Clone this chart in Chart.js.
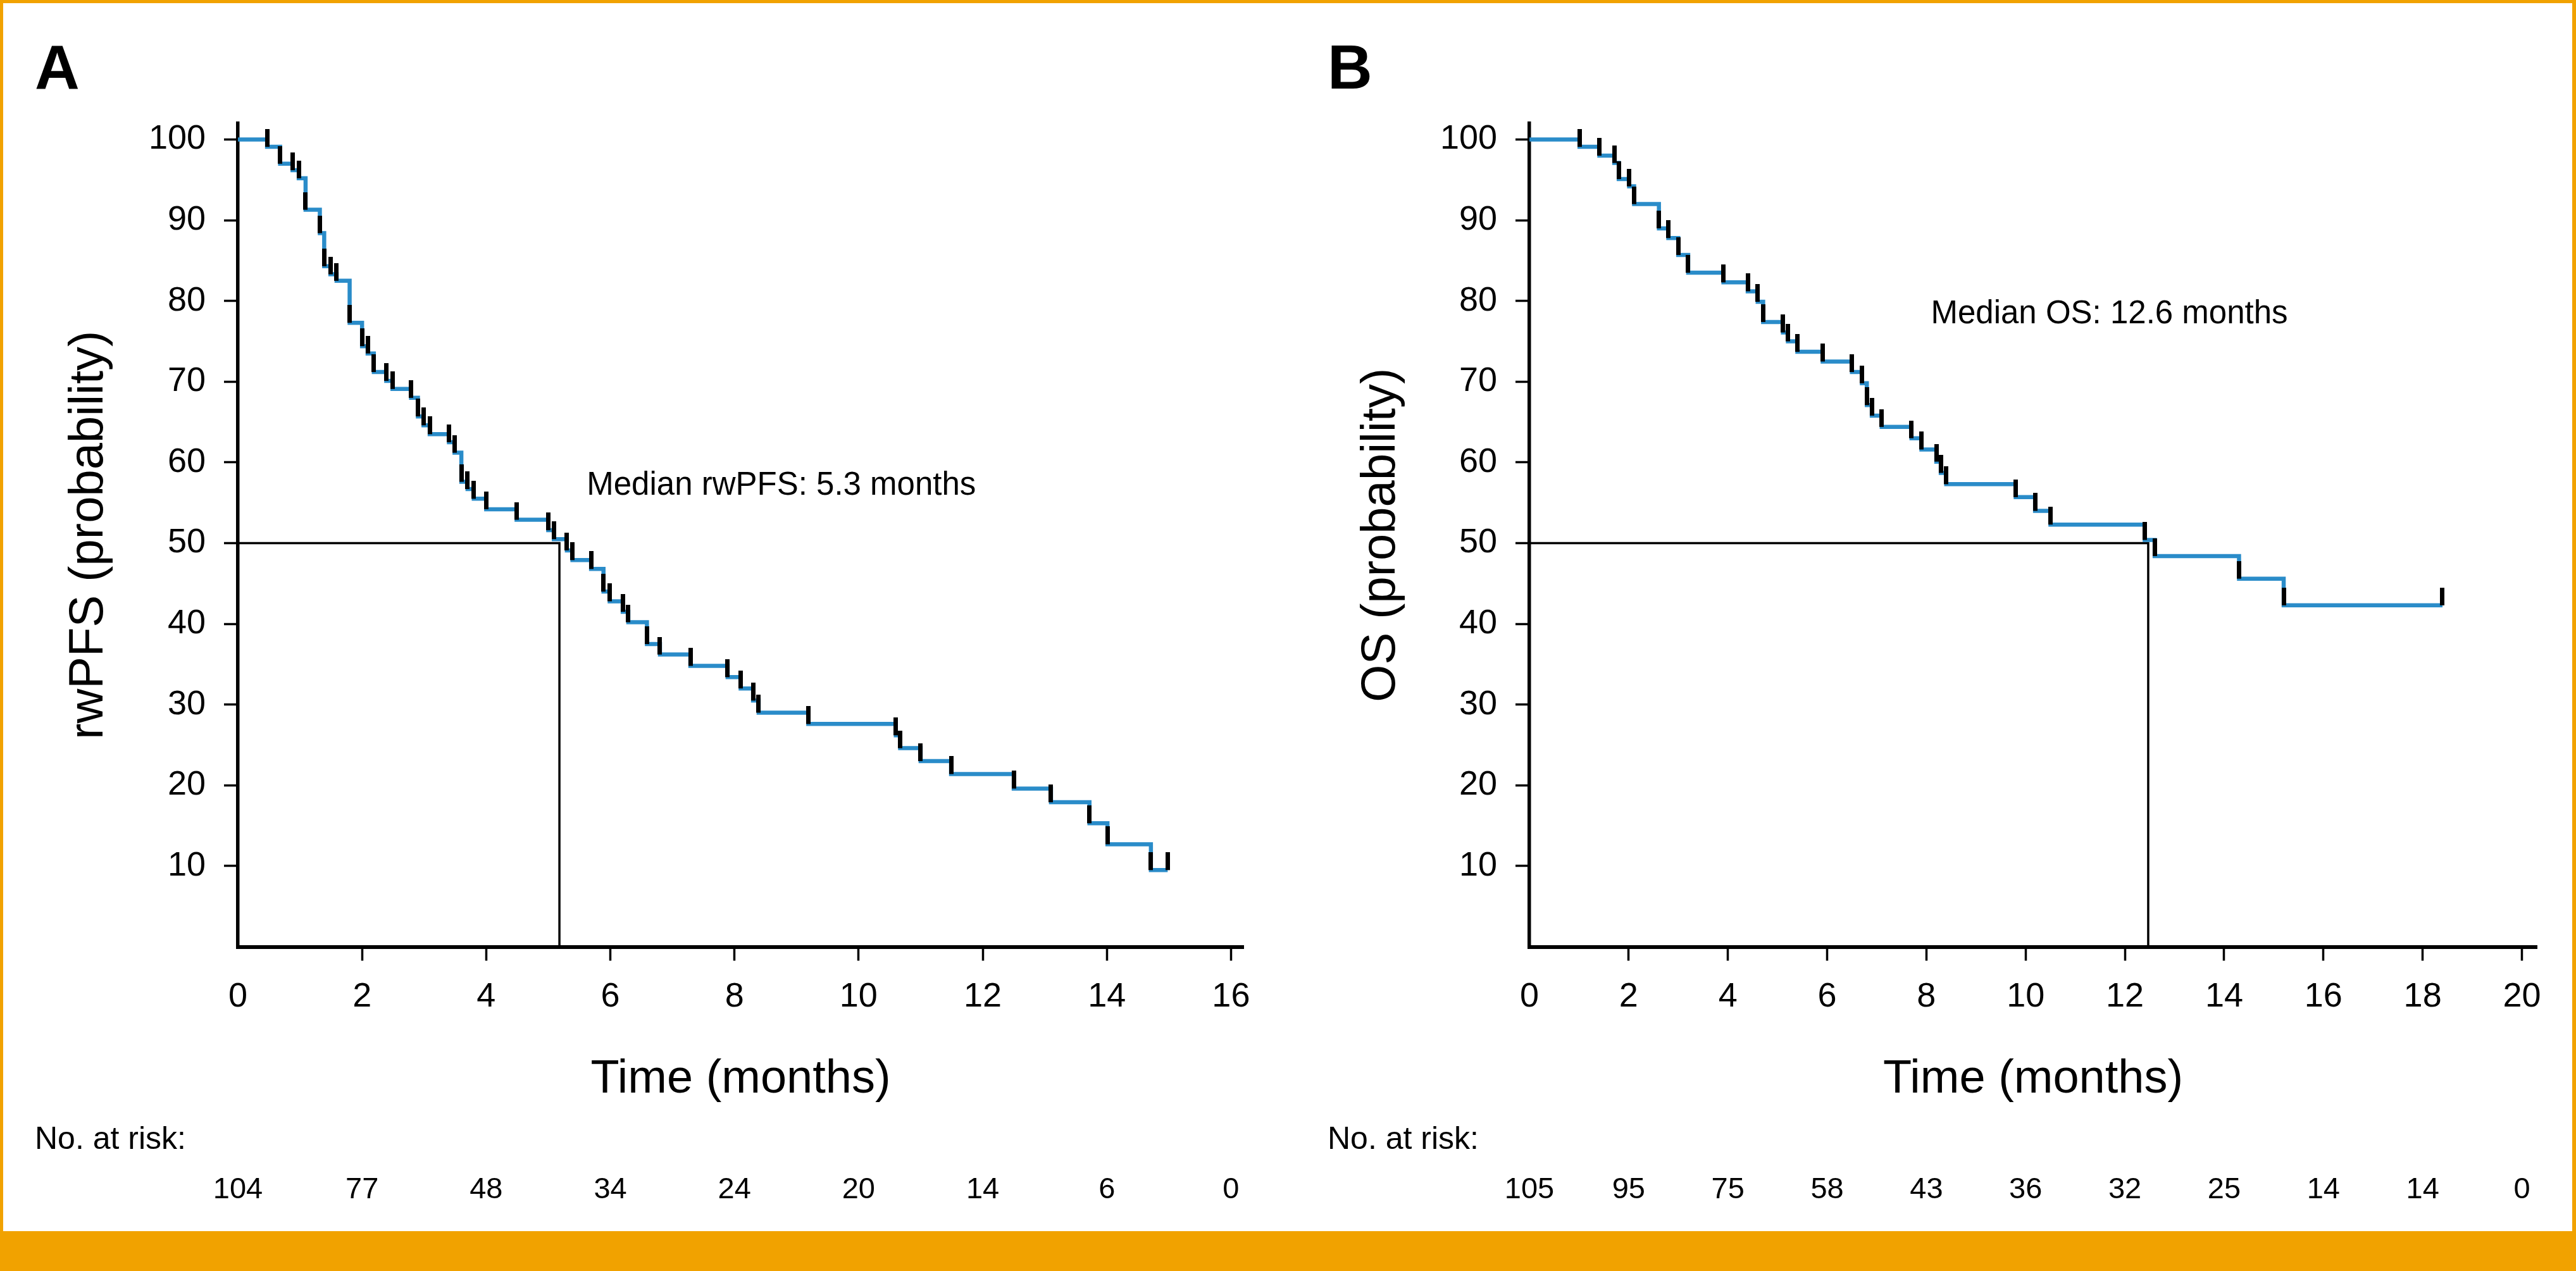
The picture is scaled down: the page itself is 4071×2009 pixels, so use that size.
<!DOCTYPE html>
<html>
<head>
<meta charset="utf-8">
<title>rwPFS y OS</title>
<script src="https://cdn.jsdelivr.net/npm/chart.js@4.4.1/dist/chart.umd.min.js"></script>
<style>
  html, body { margin: 0; padding: 0; background: #fff; }
  body { width: 4071px; height: 2009px; position: relative; overflow: hidden; }
  canvas { position: absolute; top: 0; }
  #chartA { left: 0; }
  #chartB { left: 2040px; }
  #marco { position: absolute; left: 0; top: 0; width: 4071px; height: 2009px; box-sizing: border-box;
           border: solid #f1a200; border-width: 5px 6px 63px 5px; pointer-events: none; }
</style>
</head>
<body>
<canvas id="chartA" width="2040" height="1946"></canvas>
<canvas id="chartB" width="2031" height="1946"></canvas>
<div id="marco"></div>
<script>
// Panel A: rwPFS (meses, probabilidad en %)
const timesA = [0, 0.47, 0.68, 0.88, 0.98, 1.09, 1.32, 1.39, 1.49, 1.59, 1.80, 2.00, 2.09, 2.19, 2.39, 2.49, 2.79, 2.90, 2.99, 3.09,
                3.40, 3.49, 3.60, 3.70, 3.80, 4.00, 4.49, 5.00, 5.09, 5.30, 5.39, 5.69, 5.89, 5.99, 6.20, 6.29, 6.59, 6.80, 7.29, 7.89,
                8.10, 8.30, 8.39, 9.19, 10.60, 10.67, 11.00, 11.49, 12.50, 13.10, 13.72, 14.01, 14.71];
const survA = [100, 99.1, 97.0, 96.2, 95.2, 91.3, 88.4, 84.3, 83.3, 82.5, 77.3, 74.4, 73.5, 71.2, 70.1, 69.1, 68.0, 65.7, 64.6, 63.5,
               62.5, 61.2, 57.6, 56.7, 55.5, 54.2, 52.9, 51.6, 50.5, 49.1, 47.9, 46.8, 44.0, 42.8, 41.5, 40.2, 37.5, 36.2, 34.8, 33.4,
               32.0, 30.5, 29.0, 27.6, 26.2, 24.6, 23.0, 21.4, 19.6, 17.9, 15.3, 12.7, 9.5];
const censorA = [0.47, 0.68, 0.88, 0.98, 1.09, 1.32, 1.39, 1.49, 1.59, 1.80, 2.00, 2.09, 2.19, 2.39, 2.49, 2.79, 2.90, 2.99, 3.09,
                 3.40, 3.49, 3.60, 3.70, 3.80, 4.00, 4.49, 5.00, 5.09, 5.30, 5.39, 5.69, 5.89, 5.99, 6.20, 6.29, 6.59, 6.80, 7.29, 7.89,
                 8.10, 8.30, 8.39, 9.19, 10.60, 10.67, 11.00, 11.49, 12.50, 13.10, 13.72, 14.01, 14.71, 14.98];
const endA = 14.98;
const medianA = 5.18;
const riskTimesA = [0, 2, 4, 6, 8, 10, 12, 14, 16];
const riskA = [104, 77, 48, 34, 24, 20, 14, 6, 0];

// Panel B: OS
const timesB = [0, 1.01, 1.41, 1.71, 1.80, 2.01, 2.11, 2.61, 2.80, 3.00, 3.20, 3.91, 4.40, 4.60, 4.71, 5.11, 5.21, 5.40, 5.91, 6.50,
                6.70, 6.80, 6.90, 7.10, 7.70, 7.90, 8.20, 8.29, 8.40, 9.80, 10.19, 10.50, 12.40, 12.60, 14.30, 15.20];
const survB = [100, 99.1, 98.0, 97.1, 95.1, 94.2, 92.0, 89.0, 87.8, 85.7, 83.5, 82.3, 81.2, 79.9, 77.4, 76.1, 75.0, 73.7, 72.5, 71.2,
               69.8, 67.1, 65.8, 64.4, 63.0, 61.6, 60.1, 58.7, 57.3, 55.7, 54.0, 52.3, 50.4, 48.4, 45.6, 42.3];
const censorB = [1.01, 1.41, 1.71, 1.80, 2.01, 2.11, 2.61, 2.80, 3.00, 3.20, 3.91, 4.40, 4.60, 4.71, 5.11, 5.21, 5.40, 5.91, 6.50,
                 6.70, 6.80, 6.90, 7.10, 7.70, 7.90, 8.20, 8.29, 8.40, 9.80, 10.19, 10.50, 12.40, 12.60, 14.30, 15.20, 18.40];
const endB = 18.40;
const medianB = 12.47;
const riskTimesB = [0, 2, 4, 6, 8, 10, 12, 14, 16, 18, 20];
const riskB = [105, 95, 75, 58, 43, 36, 32, 25, 14, 14, 0];

const familia = "'Liberation Sans', Arial, Helvetica, sans-serif";
const azul = '#2a8cc9';
Chart.defaults.font.family = familia;
Chart.defaults.color = '#000';

// Marca de censura: trazo vertical que sube desde la curva
function crearMarca() {
    const c = document.createElement('canvas');
    c.width = 7;
    c.height = 56;
    const g = c.getContext('2d');
    g.fillStyle = '#000';
    g.fillRect(0, 0, 7, 28);
    return c;
}
const marca = crearMarca();

// Valor de la curva escalonada en el tiempo t
function nivel(times, surv, t) {
    let v = surv[0];
    for (let i = 0; i < times.length; i++) {
        if (times[i] <= t) v = surv[i];
    }
    return v;
}

// Textos fijos: letra del panel, mediana, pacientes en riesgo
function crearTextos(cfg) {
    return {
        id: 'textos',
        afterDraw(chart) {
            const ctx = chart.ctx;
            const x = chart.scales.x;
            const y = chart.scales.y;
            ctx.save();
            ctx.fillStyle = '#000';
            ctx.textBaseline = 'alphabetic';
            ctx.textAlign = 'left';
            ctx.font = 'bold 98px ' + familia;
            ctx.fillText(cfg.letra, cfg.margen, 140);
            ctx.font = '51px ' + familia;
            ctx.fillText(cfg.textoMediana, x.getPixelForValue(cfg.etiqueta.x), y.getPixelForValue(cfg.etiqueta.y));
            ctx.font = '50px ' + familia;
            ctx.fillText('No. at risk:', cfg.margen, 1816);
            ctx.font = '47px ' + familia;
            ctx.textAlign = 'center';
            cfg.riskTimes.forEach((t, i) => {
                ctx.fillText(String(cfg.risk[i]), x.getPixelForValue(t), 1894);
            });
            ctx.restore();
        }
    };
}

function crearGrafico(id, cfg) {
    const curva = cfg.times.map((t, i) => ({ x: t, y: cfg.surv[i] }));
    curva.push({ x: cfg.end, y: cfg.surv[cfg.surv.length - 1] });
    const marcas = cfg.censor.map(t => ({ x: t, y: nivel(cfg.times, cfg.surv, t) }));
    const lineaMediana = [{ x: 0, y: 50 }, { x: cfg.median, y: 50 }, { x: cfg.median, y: 0 }];
    const sinCero = c => (c.tick && c.tick.value === 0) ? 'rgba(0,0,0,0)' : '#000';

    return new Chart(document.getElementById(id), {
        type: 'line',
        data: {
            datasets: [
                { data: marcas, showLine: false, pointStyle: marca, pointRadius: 28, order: 0 },
                { data: curva, borderColor: azul, borderWidth: 6.5, stepped: true, pointRadius: 0,
                  borderJoinStyle: 'miter', fill: false, order: 1 },
                { data: lineaMediana, borderColor: '#000', borderWidth: 3.5, pointRadius: 0,
                  borderJoinStyle: 'miter', fill: false, order: 2 }
            ]
        },
        options: {
            responsive: false,
            animation: false,
            events: [],
            layout: { padding: { left: 0, top: 195, right: cfg.padDerecha, bottom: 195.5 } },
            plugins: { legend: { display: false }, tooltip: { enabled: false } },
            scales: {
                x: {
                    type: 'linear',
                    min: 0,
                    max: cfg.xMax,
                    border: { display: true, color: '#000', width: 6 },
                    grid: { drawOnChartArea: false, drawTicks: true, tickLength: 22, tickWidth: 3.5, tickColor: sinCero },
                    ticks: { stepSize: 2, includeBounds: false, autoSkip: false, maxRotation: 0, padding: 25,
                             color: '#000', font: { size: 54 } },
                    title: { display: true, text: 'Time (months)', color: '#000', font: { size: 74 },
                             padding: { top: 0, bottom: 0 } },
                    afterFit: s => { s.height = 254; }
                },
                y: {
                    type: 'linear',
                    min: 0,
                    max: 102,
                    border: { display: true, color: '#000', width: 5.5 },
                    grid: { drawOnChartArea: false, drawTicks: true, tickLength: 22, tickWidth: 3.5, tickColor: '#000' },
                    ticks: { stepSize: 10, includeBounds: false, padding: 29, color: '#000', font: { size: 54 } },
                    afterBuildTicks: s => { s.ticks = s.ticks.filter(t => t.value !== 0); },
                    title: { display: true, text: cfg.yTitulo, color: '#000', font: { size: 76 },
                             padding: { top: cfg.padTitulo, bottom: 0 } },
                    afterFit: s => { s.width = cfg.anchoY; }
                }
            }
        },
        plugins: [crearTextos(cfg)]
    });
}

crearGrafico('chartA', {
    times: timesA, surv: survA, censor: censorA, end: endA, median: medianA,
    riskTimes: riskTimesA, risk: riskA, xMax: 16.2, anchoY: 376, padDerecha: 75, padTitulo: 95,
    yTitulo: 'rwPFS (probability)', letra: 'A', margen: 55,
    textoMediana: 'Median rwPFS: 5.3 months', etiqueta: { x: 5.62, y: 56.0 }
});

crearGrafico('chartB', {
    times: timesB, surv: survB, censor: censorB, end: endB, median: medianB,
    riskTimes: riskTimesB, risk: riskB, xMax: 20.3, anchoY: 377, padDerecha: 62, padTitulo: 97,
    yTitulo: 'OS (probability)', letra: 'B', margen: 58,
    textoMediana: 'Median OS: 12.6 months', etiqueta: { x: 8.09, y: 77.2 }
});
</script>
</body>
</html>
